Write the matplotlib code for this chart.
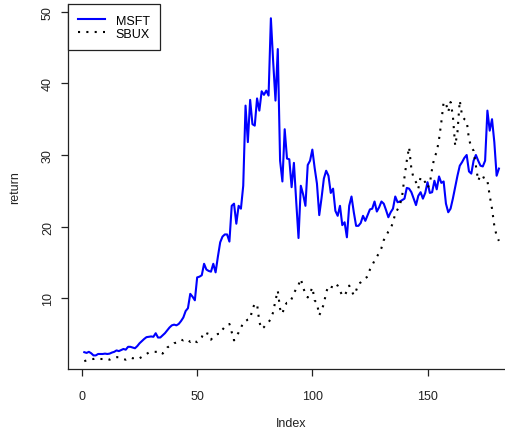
import matplotlib
matplotlib.use("Agg")
import matplotlib.pyplot as plt
import numpy as np

plt.rcParams['font.family'] = ['Liberation Sans', 'DejaVu Sans']

# monthly values (index 1..181)
msft = [2.45, 2.35, 2.5, 2.3, 2.0, 2.0, 2.2, 2.2, 2.2, 2.25,
        2.2, 2.25, 2.4, 2.5, 2.7, 2.6, 2.75, 2.9, 2.8, 3.2,
        3.2, 3.1, 3.0, 3.3, 3.7, 4.0, 4.3, 4.55, 4.6, 4.65,
        4.6, 5.1, 4.5, 4.5, 4.8, 5.1, 5.5, 5.9, 6.2, 6.3,
        6.2, 6.4, 6.8, 7.3, 8.2, 8.6, 10.6, 10.2, 9.7, 12.9,
        13.0, 13.2, 14.8, 14.0, 13.8, 13.7, 14.8, 13.6, 15.8, 17.8,
        18.6, 18.9, 18.9, 17.9, 22.9, 23.2, 20.4, 22.9, 22.5, 25.7,
        36.9, 31.8, 37.7, 34.3, 34.1, 37.9, 36.2, 38.9, 38.4, 39.0,
        38.3, 49.1, 43.0, 37.6, 44.8, 29.2, 26.3, 33.6, 29.5, 29.4,
        25.5, 28.9, 23.5, 18.4, 25.7, 24.5, 22.9, 28.6, 29.2, 30.75,
        28.2, 26.0, 21.6, 24.0, 26.7, 27.8, 27.1, 24.7, 25.3, 22.2,
        21.5, 22.9, 20.2, 20.6, 18.5, 22.9, 24.2, 22.0, 20.1, 20.1,
        20.5, 21.5, 20.8, 21.6, 22.4, 22.5, 23.5, 22.1, 22.7, 23.5,
        23.2, 22.3, 21.3, 22.0, 22.5, 24.2, 23.4, 23.5, 23.7, 23.9,
        25.4, 25.3, 24.8, 23.9, 23.0, 24.3, 24.8, 23.9, 24.7, 26.2,
        24.7, 24.8, 26.4, 25.2, 27.0, 26.1, 26.3, 23.2, 22.0, 22.5,
        23.9, 25.5, 27.1, 28.5, 29.0, 29.6, 30.0, 27.7, 27.4, 29.2,
        30.0, 29.2, 28.5, 28.4, 29.2, 36.2, 33.4, 35.0, 31.8, 27.1,
        28.1]

sbux = [1.2, 1.3, 1.4, 1.5, 1.5, 1.6, 1.5, 1.5, 1.5, 1.4,
        1.5, 1.4, 1.6, 1.7, 1.75, 1.75, 1.6, 1.5, 1.4, 1.6,
        1.7, 1.6, 1.65, 1.5, 1.6, 1.8, 2.0, 2.2, 2.4, 2.4,
        2.5, 2.5, 2.5, 2.6, 2.25, 2.6, 3.1, 3.3, 3.4, 3.7,
        3.8, 4.0, 4.2, 4.1, 4.3, 4.1, 3.9, 4.2, 4.0, 3.85,
        4.2, 4.55, 5.25, 5.1, 5.0, 4.2, 4.6, 4.8, 5.0, 5.0,
        5.6, 6.0, 6.2, 6.4, 5.25, 4.1, 4.7, 5.2, 5.8, 6.65,
        6.8, 7.0, 7.1, 8.5, 9.2, 9.2, 6.65, 5.7, 5.95, 6.4,
        6.65, 7.1, 8.05, 9.7, 11.05, 8.5, 7.8, 9.0, 9.35, 9.35,
        9.9, 10.7, 11.3, 11.85, 12.7, 11.5, 10.6, 10.1, 10.7, 11.5,
        9.7, 9.3, 7.6, 8.3, 9.2, 10.8, 11.75, 11.6, 11.5, 12.0,
        11.75, 11.0, 10.4, 10.3, 11.05, 11.75, 11.05, 10.4, 11.05, 12.0,
        12.2, 12.5, 12.8, 13.0, 14.0, 14.6, 15.25, 15.8, 16.3, 17.0,
        18.1, 18.7, 19.3, 19.7, 20.6, 21.8, 22.4, 23.0, 24.3, 26.9,
        29.2, 31.1, 28.05, 26.7, 26.2, 25.3, 26.9, 26.6, 26.2, 25.4,
        26.0, 28.1, 29.7, 30.4, 32.2, 34.6, 37.4, 37.2, 36.0, 37.4,
        35.5, 31.3, 33.2, 37.6, 35.5, 35.0, 34.8, 32.2, 31.1, 30.6,
        28.5, 26.4, 27.2, 27.1, 26.4, 26.4, 24.3, 22.5, 20.1, 18.7,
        18.0]

idx = np.arange(1, len(msft) + 1)
xticks = [0, 50, 100, 150]
yticks = [10, 20, 30, 40, 50]

fs = 9
fig = plt.figure(figsize=(5.06, 4.31), dpi=100)
ax = fig.add_axes([0.1338, 0.1415, 0.885, 0.847])

ax.plot(idx, msft, color='#0000ff', lw=1.5, label='MSFT')
ax.plot(idx, sbux, color='black', lw=1.5, linestyle=(0, (1, 3)),
        dash_capstyle='butt', label='SBUX')

ax.set_xlim(-6.2, 188.2)
ax.set_ylim(0.1, 51.1)
ax.set_xticks(xticks)
ax.set_yticks(yticks)
for s in ['top', 'right']:
    ax.spines[s].set_visible(False)
for s in ['left', 'bottom']:
    ax.spines[s].set_linewidth(0.9)
    ax.spines[s].set_color('#222222')
ax.tick_params(axis='both', length=5, width=0.9, color='#222222',
               labelsize=fs, labelcolor='#222222')
ax.tick_params(axis='x', pad=10)
ax.tick_params(axis='y', pad=5)
for t in ax.get_yticklabels():
    t.set_rotation(90)
    t.set_va('center')

ax.set_xlabel('Index', fontsize=fs, color='#222222', va='center')
ax.set_ylabel('return', fontsize=fs, color='#222222', va='center')
ax.xaxis.set_label_coords(0.5, -0.148)
ax.yaxis.set_label_coords(-0.118, 0.5)

leg = ax.legend(loc='upper left', bbox_to_anchor=(0, 1), borderaxespad=0,
                fancybox=False, framealpha=1, edgecolor='#222222',
                fontsize=fs, handlelength=2.1, handletextpad=0.88,
                labelspacing=0.08, borderpad=0.85)
leg.get_frame().set_linewidth(0.9)

fig.savefig('out.png', dpi=100)
